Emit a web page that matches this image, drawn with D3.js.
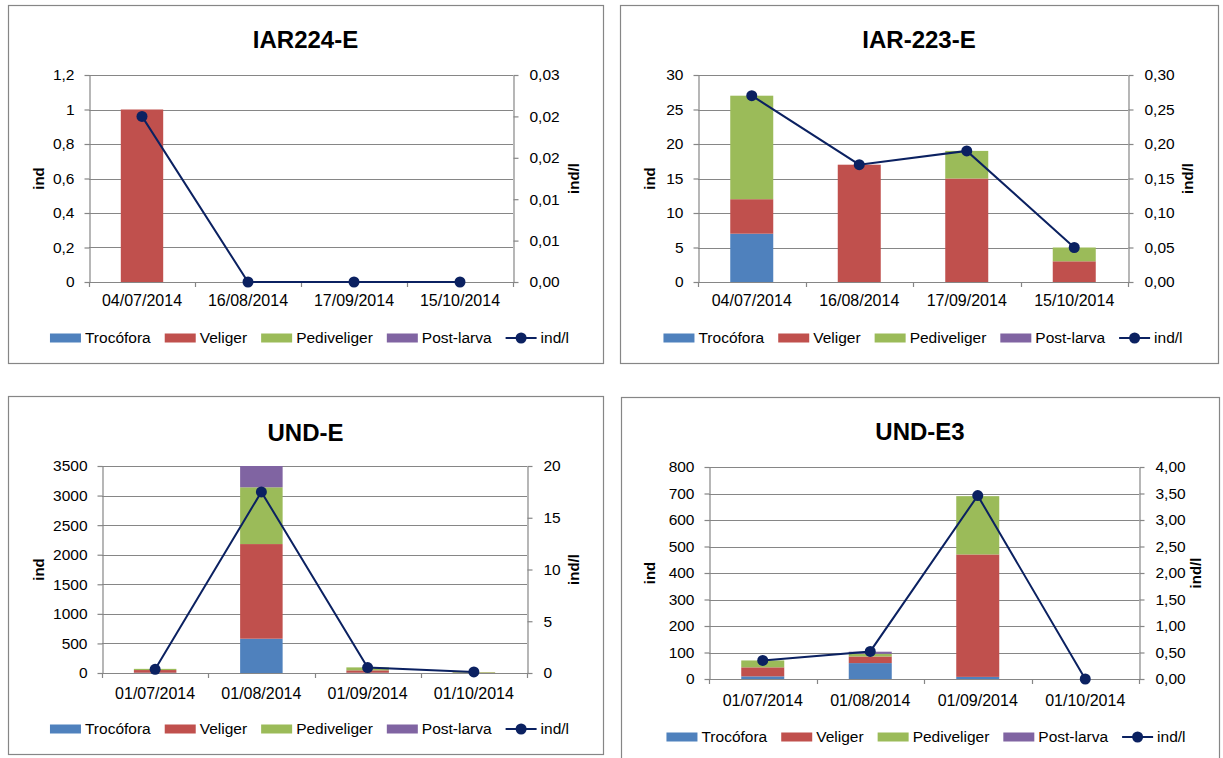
<!DOCTYPE html>
<html>
<head>
<meta charset="utf-8">
<script src="https://cdn.jsdelivr.net/npm/d3@7/dist/d3.min.js"></script>
<style>
  html, body { margin: 0; padding: 0; background: #ffffff; }
  svg { display: block; font-family: "Liberation Sans", Arial, sans-serif; }
</style>
</head>
<body>
<script>
// ---- data -------------------------------------------------------------
const seriesNames = ["Trocófora", "Veliger", "Pediveliger", "Post-larva"];
const lineName = "ind/l";

const datesIAR = ["04/07/2014", "16/08/2014", "17/09/2014", "15/10/2014"];
const datesUND = ["01/07/2014", "01/08/2014", "01/09/2014", "01/10/2014"];

// IAR224-E
const iar224Trocofora   = [0, 0, 0, 0];
const iar224Veliger     = [1, 0, 0, 0];
const iar224Pediveliger = [0, 0, 0, 0];
const iar224PostLarva   = [0, 0, 0, 0];
const iar224IndL        = [0.024, 0, 0, 0];

// IAR-223-E
const iar223Trocofora   = [7, 0, 0, 0];
const iar223Veliger     = [5, 17, 15, 3];
const iar223Pediveliger = [15, 0, 4, 2];
const iar223PostLarva   = [0, 0, 0, 0];
const iar223IndL        = [0.27, 0.17, 0.19, 0.05];

// UND-E
const undETrocofora   = [5, 580, 5, 0];
const undEVeliger     = [45, 1600, 40, 5];
const undEPediveliger = [20, 960, 50, 10];
const undEPostLarva   = [0, 360, 0, 0];
const undEIndL        = [0.36, 17.5, 0.52, 0.1];

// UND-E3
const undE3Trocofora   = [10, 60, 8, 0];
const undE3Veliger     = [34, 25, 462, 0];
const undE3Pediveliger = [26, 10, 220, 0];
const undE3PostLarva   = [0, 8, 0, 0];
const undE3IndL        = [0.35, 0.52, 3.46, 0];

// axis ticks
const iar224LeftTicks  = [0, 0.2, 0.4, 0.6, 0.8, 1, 1.2];
const iar224RightTicks = [0, 0.006, 0.012, 0.018, 0.024, 0.03];
const iar223LeftTicks  = [0, 5, 10, 15, 20, 25, 30];
const iar223RightTicks = [0, 0.05, 0.10, 0.15, 0.20, 0.25, 0.30];
const undELeftTicks    = [0, 500, 1000, 1500, 2000, 2500, 3000, 3500];
const undERightTicks   = [0, 5, 10, 15, 20];
const undE3LeftTicks   = [0, 100, 200, 300, 400, 500, 600, 700, 800];
const undE3RightTicks  = [0, 0.5, 1, 1.5, 2, 2.5, 3, 3.5, 4];

// ---- styling ----------------------------------------------------------
const seriesColors = ["#4F81BD", "#C0504D", "#9BBB59", "#8064A2"];
const lineColor = "#0B2161";
const axisColor = "#868686";
const FS = 15.5;

// decimal comma formats
const commaPlain = v => String(+v.toFixed(6)).replace(".", ",");
const comma2 = v => v.toFixed(2).replace(".", ",");
const intFmt = v => String(Math.round(v));

const svg = d3.select("body").append("svg")
  .attr("width", 1223).attr("height", 758);

function drawPanel(p) {
  const g = svg.append("g");

  // chart frame
  g.append("rect")
    .attr("x", p.frame.x + 0.5).attr("y", p.frame.y + 0.5)
    .attr("width", p.frame.w).attr("height", p.frame.h)
    .attr("fill", "#ffffff").attr("stroke", axisColor).attr("stroke-width", 1.2);

  // title
  g.append("text")
    .attr("x", p.frame.x + p.frame.w / 2).attr("y", p.titleY)
    .attr("text-anchor", "middle")
    .attr("font-size", 24).attr("font-weight", "bold")
    .text(p.title);

  const L = p.plot.left, R = p.plot.right, T = p.plot.top, B = p.plot.bottom;

  const x = d3.scaleBand().domain(p.categories).range([L, R]).padding(0);
  const y = d3.scaleLinear().domain([0, d3.max(p.leftTicks)]).range([B, T]);
  const y2 = d3.scaleLinear().domain([0, d3.max(p.rightTicks)]).range([B, T]);

  // horizontal gridlines
  g.append("g").selectAll("line").data(p.leftTicks).join("line")
    .attr("x1", L).attr("x2", R)
    .attr("y1", d => Math.round(y(d)) + 0.5).attr("y2", d => Math.round(y(d)) + 0.5)
    .attr("stroke", axisColor).attr("stroke-width", 1.2);

  // stacked bars
  const rows = p.categories.map((c, i) => {
    const r = { cat: c };
    seriesNames.forEach((s, k) => { r[s] = p.series[k][i]; });
    return r;
  });
  const stacked = d3.stack().keys(seriesNames)(rows);
  const bw = x.bandwidth() * 0.4;
  const clipId = "clip" + p.id;
  g.append("clipPath").attr("id", clipId).append("rect")
    .attr("x", L).attr("y", T).attr("width", R - L).attr("height", B - T);
  const barG = g.append("g").attr("clip-path", `url(#${clipId})`);
  stacked.forEach((layer, k) => {
    barG.append("g").attr("fill", seriesColors[k])
      .selectAll("rect").data(layer).join("rect")
      .attr("x", d => x(d.data.cat) + (x.bandwidth() - bw) / 2)
      .attr("width", bw)
      .attr("y", d => y(d[1]))
      .attr("height", d => Math.max(0, y(d[0]) - y(d[1])));
  });

  // left value axis
  const leftAxis = g.append("g")
    .attr("transform", `translate(${L + 0.5},0)`)
    .call(d3.axisLeft(y).tickValues(p.leftTicks).tickFormat(p.leftFormat)
      .tickSize(5).tickSizeOuter(0).tickPadding(10));
  // right value axis
  const rightAxis = g.append("g")
    .attr("transform", `translate(${R + 0.5},0)`)
    .call(d3.axisRight(y2).tickValues(p.rightTicks).tickFormat(p.rightFormat)
      .tickSize(5).tickSizeOuter(0).tickPadding(11));
  [leftAxis, rightAxis].forEach(a => {
    a.attr("font-family", null).attr("font-size", FS);
    a.selectAll("path, line").attr("stroke", axisColor).attr("stroke-width", 1.2);
    a.selectAll("text").attr("fill", "#000");
  });

  // category axis with tick marks between categories
  const catAxis = g.append("g");
  catAxis.append("line")
    .attr("x1", L).attr("x2", R + 5)
    .attr("y1", Math.round(B) + 0.5).attr("y2", Math.round(B) + 0.5)
    .attr("stroke", axisColor).attr("stroke-width", 1.2);
  const bounds = p.categories.map(c => x(c)).concat([R]);
  catAxis.selectAll("line.tk").data(bounds).join("line").attr("class", "tk")
    .attr("x1", d => Math.round(d) + 0.5).attr("x2", d => Math.round(d) + 0.5)
    .attr("y1", B).attr("y2", B + 5)
    .attr("stroke", axisColor).attr("stroke-width", 1.2);
  catAxis.selectAll("text").data(p.categories).join("text")
    .attr("x", d => x(d) + x.bandwidth() / 2).attr("y", p.catLabelY)
    .attr("text-anchor", "middle").attr("font-size", 16)
    .text(d => d);

  // axis titles
  g.append("text")
    .attr("transform", `translate(${p.leftTitleX},${(T + B) / 2}) rotate(-90)`)
    .attr("text-anchor", "middle").attr("font-size", 15).attr("font-weight", "bold")
    .text("ind");
  g.append("text")
    .attr("transform", `translate(${p.rightTitleX},${(T + B) / 2}) rotate(-90)`)
    .attr("text-anchor", "middle").attr("font-size", 15).attr("font-weight", "bold")
    .text("ind/l");

  // ind/l line on secondary axis
  const pts = p.categories.map((c, i) => [x(c) + x.bandwidth() / 2, y2(p.indL[i])]);
  g.append("path")
    .attr("d", d3.line()(pts))
    .attr("fill", "none").attr("stroke", lineColor).attr("stroke-width", 2);
  g.append("g").selectAll("circle").data(pts).join("circle")
    .attr("cx", d => d[0]).attr("cy", d => d[1]).attr("r", 5.5)
    .attr("fill", lineColor);

  // legend
  const lg = g.append("g");
  const items = seriesNames.map((s, k) => ({ name: s, color: seriesColors[k], line: false }))
    .concat([{ name: lineName, color: lineColor, line: true }]);
  const symW = 31, gapSym = 4, gapItem = 14;
  const itemGs = items.map(it => {
    const ig = lg.append("g");
    if (it.line) {
      ig.append("line").attr("x1", 0).attr("x2", symW).attr("y1", 0).attr("y2", 0)
        .attr("stroke", it.color).attr("stroke-width", 2);
      ig.append("circle").attr("cx", symW / 2).attr("cy", 0).attr("r", 5.5).attr("fill", it.color);
    } else {
      ig.append("rect").attr("x", 0).attr("y", -4.5).attr("width", symW).attr("height", 9)
        .attr("fill", it.color);
    }
    const t = ig.append("text").attr("x", symW + gapSym).attr("y", 0)
      .attr("dy", "0.35em").attr("font-size", FS).text(it.name);
    return { g: ig, w: symW + gapSym + t.node().getComputedTextLength() };
  });
  const total = d3.sum(itemGs, d => d.w) + gapItem * (itemGs.length - 1);
  let cx = p.frame.x + p.frame.w / 2 - total / 2 + p.legendShift;
  itemGs.forEach(d => {
    d.g.attr("transform", `translate(${cx},${p.legendY})`);
    cx += d.w + gapItem;
  });
}

drawPanel({
  id: 1, title: "IAR224-E",
  frame: { x: 8, y: 5, w: 595, h: 358 },
  plot: { left: 89, right: 513, top: 75, bottom: 282 },
  titleY: 48, catLabelY: 306, legendY: 338, legendShift: 4,
  leftTitleX: 44, rightTitleX: 579,
  categories: datesIAR,
  series: [iar224Trocofora, iar224Veliger, iar224Pediveliger, iar224PostLarva],
  indL: iar224IndL,
  leftTicks: iar224LeftTicks, rightTicks: iar224RightTicks,
  leftFormat: commaPlain, rightFormat: comma2
});

drawPanel({
  id: 2, title: "IAR-223-E",
  frame: { x: 620, y: 5, w: 598, h: 358 },
  plot: { left: 698, right: 1128, top: 75, bottom: 282 },
  titleY: 48, catLabelY: 306, legendY: 338, legendShift: 4,
  leftTitleX: 655, rightTitleX: 1193,
  categories: datesIAR,
  series: [iar223Trocofora, iar223Veliger, iar223Pediveliger, iar223PostLarva],
  indL: iar223IndL,
  leftTicks: iar223LeftTicks, rightTicks: iar223RightTicks,
  leftFormat: intFmt, rightFormat: comma2
});

drawPanel({
  id: 3, title: "UND-E",
  frame: { x: 8, y: 396, w: 595, h: 358 },
  plot: { left: 102, right: 527, top: 466, bottom: 673 },
  titleY: 441, catLabelY: 699, legendY: 729, legendShift: 4,
  leftTitleX: 44, rightTitleX: 579,
  categories: datesUND,
  series: [undETrocofora, undEVeliger, undEPediveliger, undEPostLarva],
  indL: undEIndL,
  leftTicks: undELeftTicks, rightTicks: undERightTicks,
  leftFormat: intFmt, rightFormat: intFmt
});

drawPanel({
  id: 4, title: "UND-E3",
  frame: { x: 621, y: 397, w: 598, h: 370 },
  plot: { left: 709, right: 1139, top: 467, bottom: 679 },
  titleY: 440, catLabelY: 706, legendY: 737, legendShift: 6,
  leftTitleX: 655, rightTitleX: 1201,
  categories: datesUND,
  series: [undE3Trocofora, undE3Veliger, undE3Pediveliger, undE3PostLarva],
  indL: undE3IndL,
  leftTicks: undE3LeftTicks, rightTicks: undE3RightTicks,
  leftFormat: intFmt, rightFormat: comma2
});
</script>
</body>
</html>
